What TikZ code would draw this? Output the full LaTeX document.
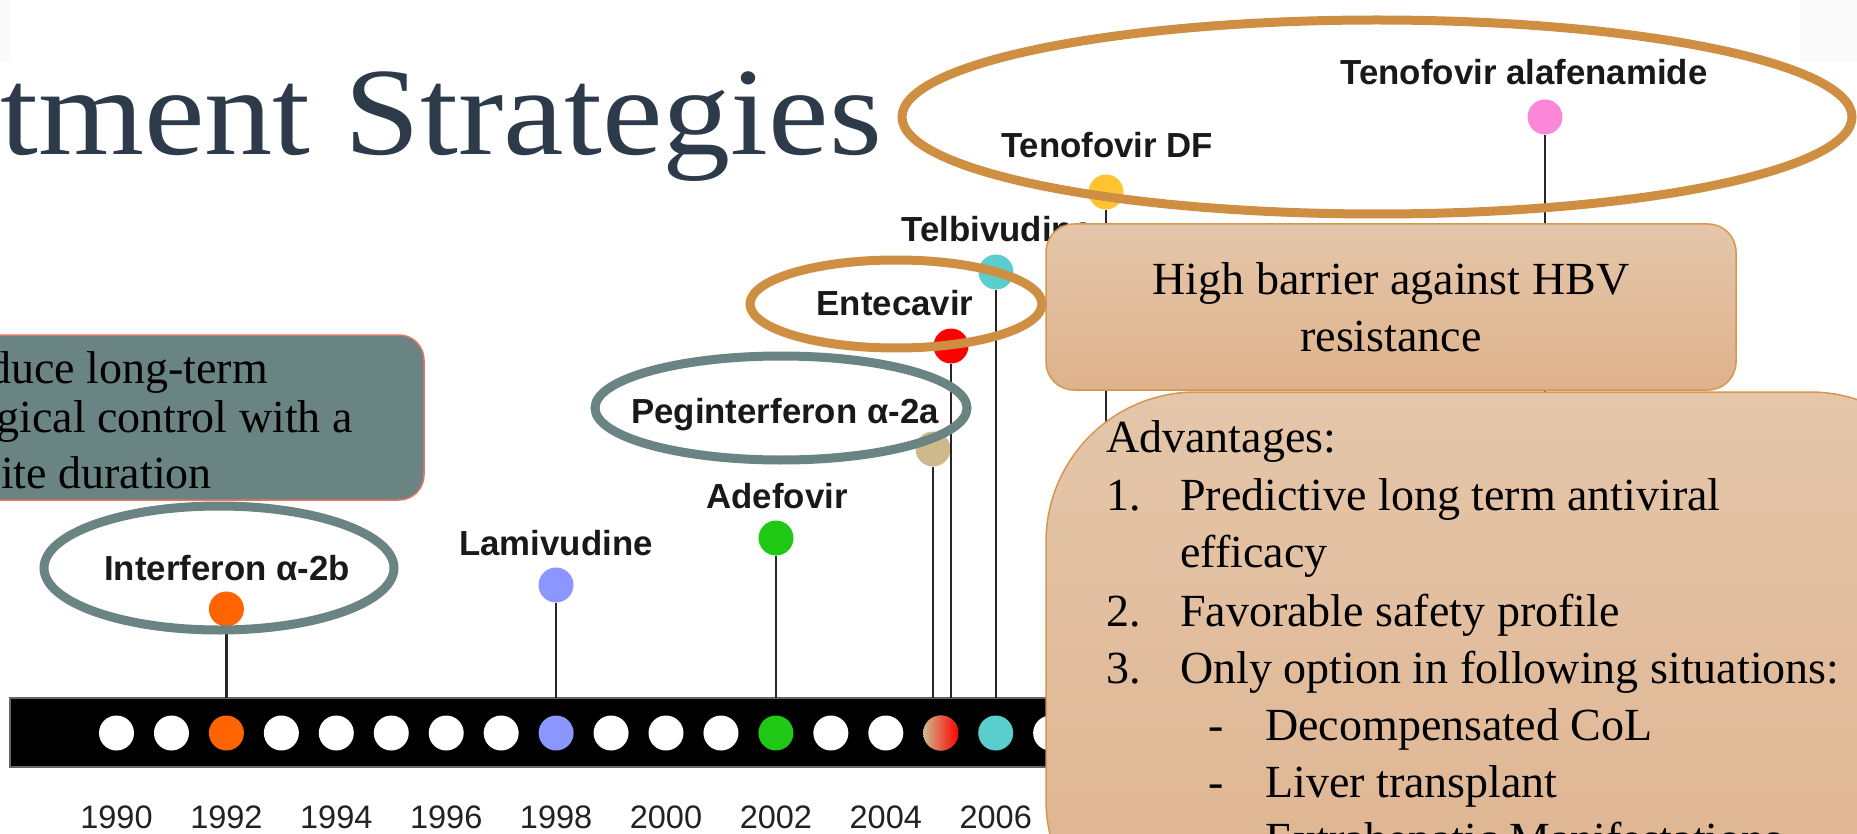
\documentclass[tikz,border=0pt]{standalone}
\usepackage{fontspec}
\setmainfont{Liberation Serif}
\setsansfont{Liberation Sans}
\usepackage{xcolor}
\usepackage{tikz}
\usepackage{tkz-euclide}
\usetikzlibrary{calc}

\definecolor{titleblue}{RGB}{44,58,74}
\definecolor{slate}{RGB}{106,131,131}
\definecolor{ochre}{RGB}{207,143,66}
\definecolor{boxtop}{RGB}{229,198,170}
\definecolor{boxbot}{RGB}{222,178,140}
\definecolor{advbot}{RGB}{222,179,143}
\definecolor{boxline}{RGB}{214,150,80}
\definecolor{salmon}{RGB}{226,120,100}
\definecolor{ifnorange}{RGB}{255,100,0}
\definecolor{lamblue}{RGB}{140,150,255}
\definecolor{adfgreen}{RGB}{30,200,20}
\definecolor{pegtan}{RGB}{205,185,140}
\definecolor{etvred}{RGB}{255,0,0}
\definecolor{ldtcyan}{RGB}{90,205,205}
\definecolor{tdfyellow}{RGB}{255,196,50}
\definecolor{tafpink}{RGB}{250,135,215}
\definecolor{yeargray}{RGB}{34,34,34}

\newcommand{\titlefont}{\fontsize{125}{130}\selectfont}
\newcommand{\bodyfont}{\fontsize{46}{57}\selectfont}
\newcommand{\drugfont}{\sffamily\bfseries\fontsize{34.8}{40}\selectfont}
\newcommand{\yearfont}{\sffamily\fontsize{32.5}{38}\selectfont}

\tikzset{
  drugdot/.style={circle, inner sep=0pt, minimum size=35pt},
  druglabel/.style={anchor=base, inner sep=0pt, text=black!90, font=\drugfont},
  pinstem/.style={line width=2.4pt, black!85},
  ring/.style={line width=9pt, draw=#1},
  bodytext/.style={anchor=base west, inner sep=0pt, font=\bodyfont},
}

\begin{document}
\begin{tikzpicture}[x=1pt, y=-1pt]
  \useasboundingbox (0,0) rectangle (1857,834);
  \clip (0,0) rectangle (1857,834);

  % Slide corners
  \fill[black!2] (0,0) rectangle (11,62);
  \fill[black!2] (1800,0) rectangle (1857,62);

  % Title
  \node[anchor=base west, inner sep=0pt, text=titleblue, font=\titlefont] (title) at (0,155)
    {\scalebox{1.09}[1]{tment Strategies}};

  % Define points
  \tkzDefPoint(0,698){bartop}

  % Timeline bar
  \filldraw[fill=black, draw=black!60, line width=1.5pt] (10,698) rectangle (1300,767);
  \foreach \c [count=\i from 0] in {white,white,ifnorange,white,white,white,white,white,lamblue,
      white,white,white,adfgreen,white,white,pegtan,ldtcyan,white,tdfyellow}
    \node[drugdot, fill=\c] (yr\i) at ({116.5+54.95*\i},733) {};
  \shade[left color=pegtan, right color=etvred] (yr15) circle (17.5);
  \foreach \yy [count=\i from 0] in {1990,1992,...,2006}
    \node[anchor=base, inner sep=0pt, text=yeargray, font=\yearfont] (lab\yy) at ({116.5+109.9*\i},828) {\yy};

  % Drug pins
  \node[drugdot, fill=ifnorange] (ifn) at (226.4,609) {};
  \node[drugdot, fill=lamblue] (lam) at (556,585) {};
  \node[drugdot, fill=adfgreen] (adf) at (776,538) {};
  \node[drugdot, fill=pegtan] (peg) at (933,449) {};
  \node[drugdot, fill=etvred] (etv) at (951,346) {};
  \node[drugdot, fill=ldtcyan] (ldt) at (996,272) {};
  \node[drugdot, fill=tdfyellow] (tdf) at (1106,192) {};
  \node[drugdot, fill=tafpink] (taf) at (1545,117) {};
  \foreach \d in {ifn,lam,adf,peg,etv,ldt,tdf,taf}
    \draw[pinstem] (\d.south) -- (\d.south |- bartop);

  \node[druglabel] (ifnlab) at (227,580) {Interferon α-2b};
  \node[druglabel] (lamlab) at (556,555) {Lamivudine};
  \node[druglabel] (adflab) at (777,508) {Adefovir};
  \node[druglabel] (peglab) at (785,423) {Peginterferon α-2a};
  \node[druglabel] (etvlab) at (895,316) {Entecavir};
  \node[druglabel] (ldtlab) at (997,242) {Telbivudine};
  \node[druglabel] (tdflab) at (1107,158) {Tenofovir DF};
  \node[druglabel] (taflab) at (1524,85) {Tenofovir alafenamide};

  % Highlight rings
  \draw[ring=slate] (219,568) ellipse [x radius=175, y radius=62];
  \draw[ring=slate] (781,408) ellipse [x radius=186, y radius=52];
  \draw[ring=ochre] (896,304) ellipse [x radius=146, y radius=44];
  \draw[ring=ochre] (1377,117) ellipse [x radius=475, y radius=97];

  % Left note
  \draw[fill=slate, draw=salmon, line width=1.5pt, rounded corners=25pt] (-40,335) rectangle (424,500);
  \node[anchor=base east, inner sep=0pt, font=\bodyfont] (note1) at (268,383) {duce long-term};
  \node[anchor=base east, inner sep=0pt, font=\bodyfont] (note2) at (353,432) {gical control with a};
  \node[anchor=base east, inner sep=0pt, font=\bodyfont] (note3) at (212,488) {ite duration};

  % Barrier box
  \node[draw=boxline, line width=1.5pt, rounded corners=28pt, top color=boxtop, bottom color=boxbot,
    minimum width=690pt, minimum height=166pt, align=center, font=\bodyfont] (hbv) at (1391,307)
    {High barrier against HBV\\resistance};

  % Advantages box
  \draw[draw=boxline, line width=1.5pt, top color=boxtop, bottom color=advbot, rounded corners=150pt]
    (1046,950) -- (1046,392) -- (1960,392) -- (1960,950) -- cycle;
  \node[bodytext] (advhead) at (1106,452) {Advantages:};
  \node[bodytext] (num1) at (1106,510) {1.};
  \node[bodytext] (adv1) at (1180,510) {Predictive long term antiviral};
  \node[bodytext] (adv1b) at (1180,567) {efficacy};
  \node[bodytext] (num2) at (1106,626) {2.};
  \node[bodytext] (adv2) at (1180,626) {Favorable safety profile};
  \node[bodytext] (num3) at (1106,683) {3.};
  \node[bodytext] (adv3) at (1180,683) {Only option in following situations:};
  \node[bodytext] (dash1) at (1208,740) {-};
  \node[bodytext] (sub1) at (1265,740) {Decompensated CoL};
  \node[bodytext] (dash2) at (1208,797) {-};
  \node[bodytext] (sub2) at (1265,797) {Liver transplant};
  \node[bodytext] (dash3) at (1208,854) {-};
  \node[bodytext] (sub3) at (1265,854) {Extrahepatic Manifestations};
\end{tikzpicture}
\end{document}
